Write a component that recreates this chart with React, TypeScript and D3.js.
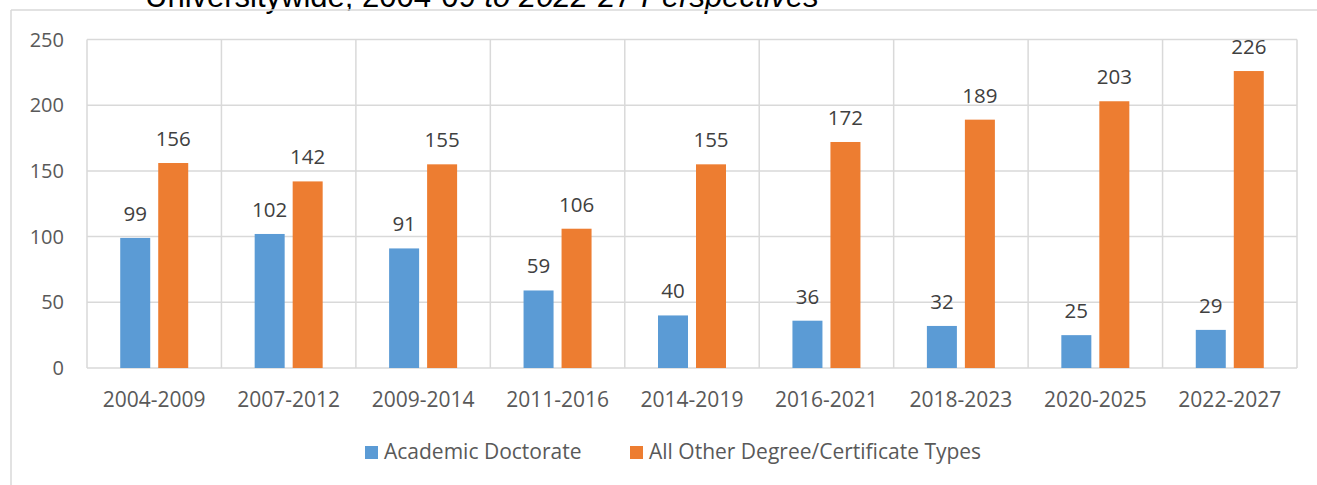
import React from 'react';
import * as d3 from 'd3';

// Degree programs by type, rolling five-year perspectives
const periods = [
  '2004-2009', '2007-2012', '2009-2014', '2011-2016', '2014-2019',
  '2016-2021', '2018-2023', '2020-2025', '2022-2027',
];
const academicDoctorate = [99, 102, 91, 59, 40, 36, 32, 25, 29];
const otherDegrees = [156, 142, 155, 106, 155, 172, 189, 203, 226];
const seriesNames = ['Academic Doctorate', 'All Other Degree/Certificate Types'];
const seriesColors = ['#5B9BD5', '#ED7D31'];
const yTicks = [0, 50, 100, 150, 200, 250];

const W = 1317;
const H = 485;
const FONT = '"Open Sans", sans-serif';

export default function App() {
  const x = d3.scaleBand<string>().domain(periods).range([87, 1297]);
  const y = d3.scaleLinear().domain([0, 250]).range([368, 39.5]);
  const pad = (x.bandwidth() - 68) / 2;
  const xs = d3
    .scaleBand<number>()
    .domain([0, 1])
    .range([pad, x.bandwidth() - pad])
    .paddingInner(0.2105);

  const values = [academicDoctorate, otherDegrees];
  const grid = '#d9d9d9';

  return (
    <svg
      width={W}
      height={H}
      style={{ position: 'absolute', left: 0, top: 0, display: 'block', background: '#fff' }}
      fontFamily={FONT}
    >
      {/* title, cut off at the top of the picture */}
      <text x={145} y={7} fontSize={31} fontFamily='"Liberation Sans", Arial, sans-serif' fill="#000">
        Universitywide, 2004-09 <tspan fontStyle="italic">to 2022-27 Perspectives</tspan>
      </text>

      {/* chart border */}
      <line x1={11} x2={W} y1={10} y2={10} stroke={grid} strokeWidth={1.5} />
      <line x1={11} x2={11} y1={10} y2={H} stroke={grid} strokeWidth={1.5} />

      {/* gridlines */}
      {yTicks.map((t) => (
        <line key={'h' + t} x1={87} x2={1297} y1={y(t)} y2={y(t)} stroke={grid} strokeWidth={1.5} />
      ))}
      {periods.map((p) => (
        <line key={'v' + p} x1={x(p)} x2={x(p)} y1={y(250)} y2={y(0)} stroke={grid} strokeWidth={1.5} />
      ))}
      <line x1={1297} x2={1297} y1={y(250)} y2={y(0)} stroke={grid} strokeWidth={1.5} />

      {/* y tick labels */}
      {yTicks.map((t) => (
        <text key={'yt' + t} x={64} y={y(t)} dy="0.35em" textAnchor="end" fontSize={20} fill="#595959">
          {t}
        </text>
      ))}

      {/* bars and value labels */}
      {values.map((vals, si) =>
        vals.map((v, i) => {
          const bx = (x(periods[i]) as number) + (xs(si) as number);
          return (
            <g key={si + '-' + i}>
              <rect x={bx} y={y(v)} width={xs.bandwidth()} height={y(0) - y(v)} fill={seriesColors[si]} />
              <text
                x={bx + xs.bandwidth() / 2}
                y={y(v) - 17}
                textAnchor="middle"
                fontSize={20.5}
                fill="#404040"
              >
                {v}
              </text>
            </g>
          );
        })
      )}

      {/* category labels */}
      {periods.map((p) => (
        <text
          key={'xl' + p}
          x={(x(p) as number) + x.bandwidth() / 2}
          y={407}
          textAnchor="middle"
          fontSize={21}
          fill="#595959"
        >
          {p}
        </text>
      ))}

      {/* legend */}
      <rect x={365} y={446} width={13} height={13} fill={seriesColors[0]} />
      <text x={384} y={459} fontSize={21} fill="#595959">{seriesNames[0]}</text>
      <rect x={630} y={446} width={13} height={13} fill={seriesColors[1]} />
      <text x={649} y={459} fontSize={21} fill="#595959">{seriesNames[1]}</text>
    </svg>
  );
}
